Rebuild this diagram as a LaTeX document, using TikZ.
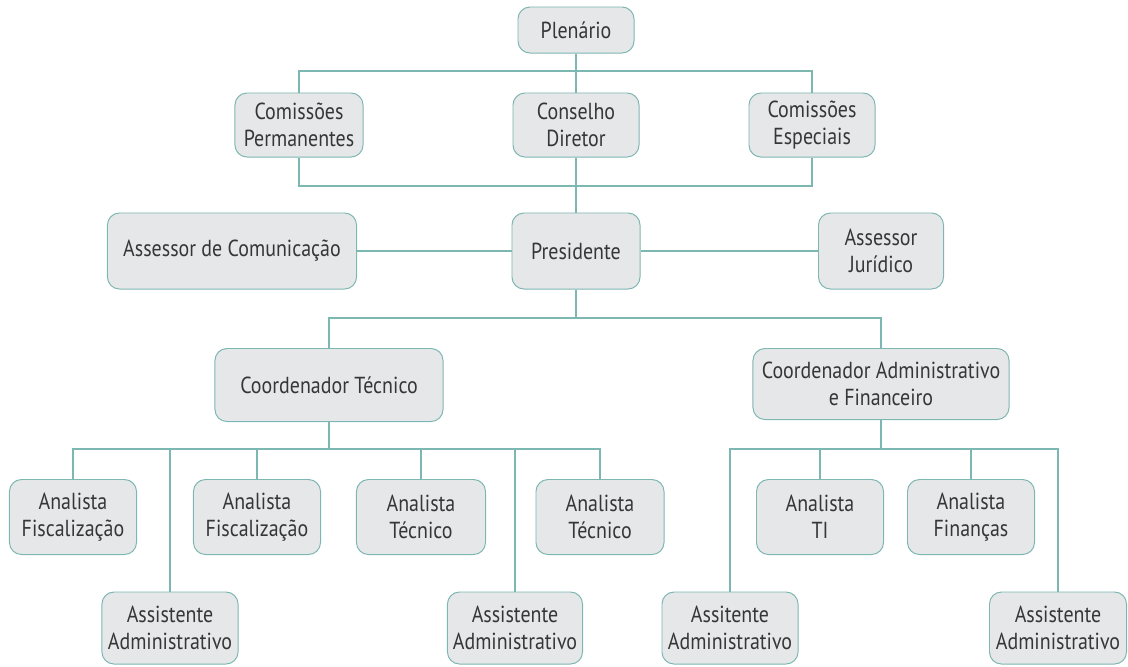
\documentclass[tikz,border=0pt]{standalone}
\usepackage{fontspec}
\setmainfont{PT Sans}[FakeStretch=0.86]
\usepackage{tikz}
\definecolor{linha}{HTML}{7DB7B2}
\definecolor{caixa}{HTML}{E6E7E8}
\definecolor{texto}{HTML}{363636}
\tikzstyle{box} = [draw=linha, fill=caixa, line width=0.7pt, rounded corners=0.3cm, align=center, text=texto, font=\fontsize{16.5}{19.5}\selectfont, inner sep=2pt]
\tikzstyle{link} = [draw=linha, line width=1pt]

\begin{document}
\begin{tikzpicture}[x=0.025cm, y=-0.025cm]
			\useasboundingbox (0, 0) rectangle (1128, 666);
			\node[box, minimum width=2.9cm, minimum height=1.15cm] (plen) at (576, 30) {Plenário};
			\node[box, minimum width=3.2cm, minimum height=1.6cm] (perm) at (299, 125) {Comissões\\Permanentes};
			\node[box, minimum width=3.15cm, minimum height=1.6cm] (cons) at (576, 125) {Conselho\\Diretor};
			\node[box, minimum width=3.15cm, minimum height=1.6cm] (espec) at (812, 125) {Comissões\\Especiais};
			\node[box, minimum width=6.225cm, minimum height=1.9cm] (ascom) at (232, 251) {Assessor de Comunicação};
			\node[box, minimum width=3.2cm, minimum height=1.9cm] (pres) at (576, 251) {Presidente};
			\node[box, minimum width=3.125cm, minimum height=1.9cm] (asjur) at (881, 251) {Assessor\\Jurídico};
			\node[box, minimum width=5.7cm, minimum height=1.825cm] (ctec) at (329, 385) {Coordenador Técnico};
			\node[box, minimum width=6.4cm, minimum height=1.775cm] (cadm) at (881, 384) {Coordenador Administrativo\\e Financeiro};
			\node[box, minimum width=3.175cm, minimum height=1.875cm] (af1) at (73, 517) {Analista\\Fiscalização};
			\node[box, minimum width=3.175cm, minimum height=1.875cm] (af2) at (257, 517) {Analista\\Fiscalização};
			\node[box, minimum width=3.225cm, minimum height=1.875cm] (at1) at (421, 517) {Analista\\Técnico};
			\node[box, minimum width=3.2cm, minimum height=1.875cm] (at2) at (600, 517) {Analista\\Técnico};
			\node[box, minimum width=3.4cm, minimum height=1.8cm] (ast1) at (170, 628) {Assistente\\Administrativo};
			\node[box, minimum width=3.375cm, minimum height=1.8cm] (ast2) at (515, 628) {Assistente\\Administrativo};
			\node[box, minimum width=3.175cm, minimum height=1.875cm] (ati) at (820, 517) {Analista\\TI};
			\node[box, minimum width=3.175cm, minimum height=1.875cm] (afin) at (971, 517) {Analista\\Finanças};
			\node[box, minimum width=3.4cm, minimum height=1.8cm] (ast3) at (730, 628) {Assitente\\Administrativo};
			\node[box, minimum width=3.425cm, minimum height=1.8cm] (ast4) at (1058, 628) {Assistente\\Administrativo};
			\coordinate (bustop) at (0, 71);
			\coordinate (busmid) at (0, 186);
			\coordinate (buspres) at (0, 318);
			\coordinate (bustec) at (0, 449);
			\coordinate (busadm) at (0, 449);
			\draw[link] (plen) -- (cons);
			\draw[link] (perm.north) -- (perm.north |- bustop) -- (espec.north |- bustop) -- (espec.north);
			\draw[link] (perm.south) -- (perm.south |- busmid) -- (espec.south |- busmid) -- (espec.south);
			\draw[link] (cons) -- (pres);
			\draw[link] (ascom) -- (pres);
			\draw[link] (pres) -- (asjur);
			\draw[link] (pres) -- (pres |- buspres);
			\draw[link] (ctec.north) -- (ctec.north |- buspres) -- (cadm.north |- buspres) -- (cadm.north);
			\draw[link] (ctec) -- (ctec |- bustec);
			\draw[link] (af1.north) -- (af1.north |- bustec) -- (at2.north |- bustec) -- (at2.north);
			\foreach \n in {af2, at1, ast1, ast2}
				\draw[link] (\n.north) -- (\n.north |- bustec);
			\draw[link] (cadm) -- (cadm |- busadm);
			\draw[link] (ast3.north) -- (ast3.north |- busadm) -- (ast4.north |- busadm) -- (ast4.north);
			\foreach \n in {ati, afin}
				\draw[link] (\n.north) -- (\n.north |- busadm);
		\end{tikzpicture}
\end{document}
